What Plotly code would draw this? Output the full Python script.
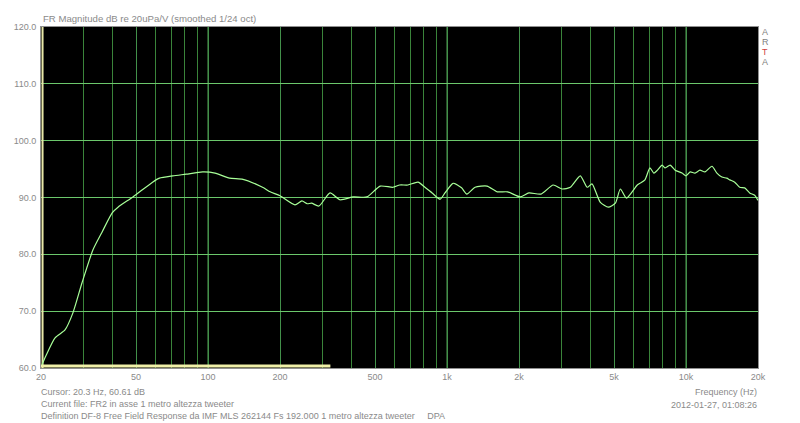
import plotly.graph_objects as go

# Frequency response (Hz, dB)
freq = [20.2, 21.0, 22.9, 25.2, 27.2, 29.7, 33.0, 36.0, 39.7, 42.0, 48.5, 58.6, 62.6, 71.2, 81.0,
        95, 107, 123, 140, 169, 182, 200, 231, 247, 260, 271, 291, 324, 357, 405, 462, 525,
        594, 634, 686, 756, 808, 866, 935, 980, 1060, 1150, 1210, 1310, 1470, 1620, 1790,
        2030, 2200, 2470, 2780, 3030, 3280, 3610, 3860, 4040, 4370, 4730, 5060, 5310, 5630,
        6250, 6412, 6730, 7060, 7330, 7550, 7940, 8180, 8580, 9000, 9620, 10000, 10400, 10900,
        11430, 12000, 12830, 13460, 14120, 14800, 15240, 15980, 16770, 17600, 18460, 19370,
        20000]
spl = [60.6, 62.2, 65.3, 66.7, 69.7, 75.0, 80.8, 83.9, 87.3, 88.3, 90.1, 92.7, 93.4, 93.8, 94.1,
       94.5, 94.3, 93.4, 93.2, 91.8, 91.0, 90.3, 88.7, 89.4, 88.9, 89.0, 88.5, 90.8, 89.6, 90.1,
       90.1, 92.0, 91.8, 92.2, 92.2, 92.7, 91.8, 90.8, 89.7, 90.8, 92.5, 91.7, 90.6, 91.8, 92.0,
       91.0, 91.0, 90.1, 90.8, 90.6, 92.2, 91.5, 91.8, 93.8, 91.8, 92.4, 89.2, 88.3, 89.0, 91.5,
       89.9, 92.2, 92.5, 93.1, 95.2, 94.3, 94.7, 95.7, 95.2, 95.7, 94.8, 94.3, 93.8, 94.5, 94.3,
       94.8, 94.5, 95.5, 94.3, 93.6, 93.4, 93.1, 92.7, 91.8, 91.7, 90.8, 90.4, 89.5]

# Cursor / marker overlays
cursor_freq = [20.3, 20.3]
cursor_db = [60.0, 120.0]
bar_freq = [20.0, 325.0]
bar_db = [60.35, 60.35]

x_tickvals = [20, 50, 100, 200, 500, 1000, 2000, 5000, 10000, 20000]
x_ticktext = ["20", "50", "100", "200", "500", "1k", "2k", "5k", "10k", "20k"]
x_minor = [30, 40, 60, 70, 80, 90, 300, 400, 600, 700, 800, 900,
           3000, 4000, 6000, 7000, 8000, 9000]
y_tickvals = [60, 70, 80, 90, 100, 110, 120]
y_ticktext = ["60.0", "70.0", "80.0", "90.0", "100.0", "110.0", "120.0"]

FONT = "Liberation Sans, Arial, sans-serif"
GRAY = "#8a8a8a"

# page has an 8px body margin: figure is drawn at offset (8, 8)
OFF = 8
PL, PR, PT, PB = 41, 758, 27, 368   # plot area in page pixels

fig = go.Figure()
fig.add_trace(go.Scatter(x=cursor_freq, y=cursor_db, mode="lines",
                         line=dict(color="#e8e8a8", width=2), hoverinfo="skip"))
fig.add_trace(go.Scatter(x=bar_freq, y=bar_db, mode="lines",
                         line=dict(color="#f0f0a8", width=3), hoverinfo="skip"))
fig.add_trace(go.Scatter(x=freq, y=spl, mode="lines",
                         line=dict(color="#a8ff98", width=1.2, shape="spline", smoothing=0.6)))

W, H = 800 - OFF, 423 - OFF
fig.update_layout(
    width=W, height=H,
    margin=dict(l=PL - OFF, r=W - (PR - OFF), t=PT - OFF, b=H - (PB - OFF), pad=0),
    paper_bgcolor="white", plot_bgcolor="black",
    showlegend=False,
    font=dict(family=FONT, size=9, color=GRAY),
)
fig.update_xaxes(type="log", range=[1.30103, 4.30103], automargin=False,
                 tickvals=x_tickvals, ticktext=x_ticktext,
                 showgrid=True, gridcolor="#42904a", gridwidth=1,
                 minor=dict(tickvals=x_minor, showgrid=True, gridcolor="#3a843a", gridwidth=1, ticks=""),
                 showline=True, linecolor="#909090", mirror=True,
                 ticks="", zeroline=False,
                 tickfont=dict(size=9, color=GRAY, family=FONT))
fig.update_yaxes(range=[60, 120], tickvals=y_tickvals, ticktext=y_ticktext, automargin=False,
                 showgrid=True, gridcolor="#6cc86c", gridwidth=1,
                 showline=True, linecolor="#909090", mirror=True,
                 ticks="", zeroline=False, ticklabelstandoff=2,
                 tickfont=dict(size=9, color=GRAY, family=FONT))

# Highlighted decade grid lines
for f in [100, 1000, 10000]:
    fig.add_shape(type="line", xref="x", yref="paper", x0=f, x1=f, y0=0, y1=1,
                  line=dict(color="#5cb05c", width=1), layer="below")

ann = [
    dict(x=42, y=18, text="FR Magnitude dB re 20uPa/V (smoothed 1/24 oct)", xanchor="left", size=9.6),
    dict(x=40, y=392, text="Cursor: 20.3 Hz, 60.61 dB", xanchor="left", size=9),
    dict(x=40, y=404, text="Current file: FR2 in asse 1 metro altezza tweeter", xanchor="left", size=9),
    dict(x=40, y=416, text="Definition DF-8 Free Field Response da IMF MLS 262144 Fs 192.000 1 metro altezza tweeter     DPA", xanchor="left", size=9),
    dict(x=758, y=392, text="Frequency (Hz)", xanchor="right", size=9),
    dict(x=758, y=405, text="2012-01-27, 01:08:26", xanchor="right", size=9),
]
for a in ann:
    fig.add_annotation(xref="paper", yref="paper", x=(a["x"] - PL) / (PR - PL),
                       y=1 - (a["y"] - PT) / (PB - PT),
                       text=a["text"], showarrow=False, xanchor=a["xanchor"], yanchor="middle",
                       xshift=0, borderpad=0,
                       font=dict(size=a["size"], color=GRAY, family=FONT))

for i, (ch, col) in enumerate(zip("ARTA", ["#808080", "#808080", "#d04040", "#808080"])):
    fig.add_annotation(xref="paper", yref="paper", x=(765 - PL) / (PR - PL),
                       y=1 - (32 + 10 * i - PT) / (PB - PT),
                       text=ch, showarrow=False, xanchor="center", yanchor="middle",
                       font=dict(size=9, color=col, family=FONT))

fig.write_html("out.html")
